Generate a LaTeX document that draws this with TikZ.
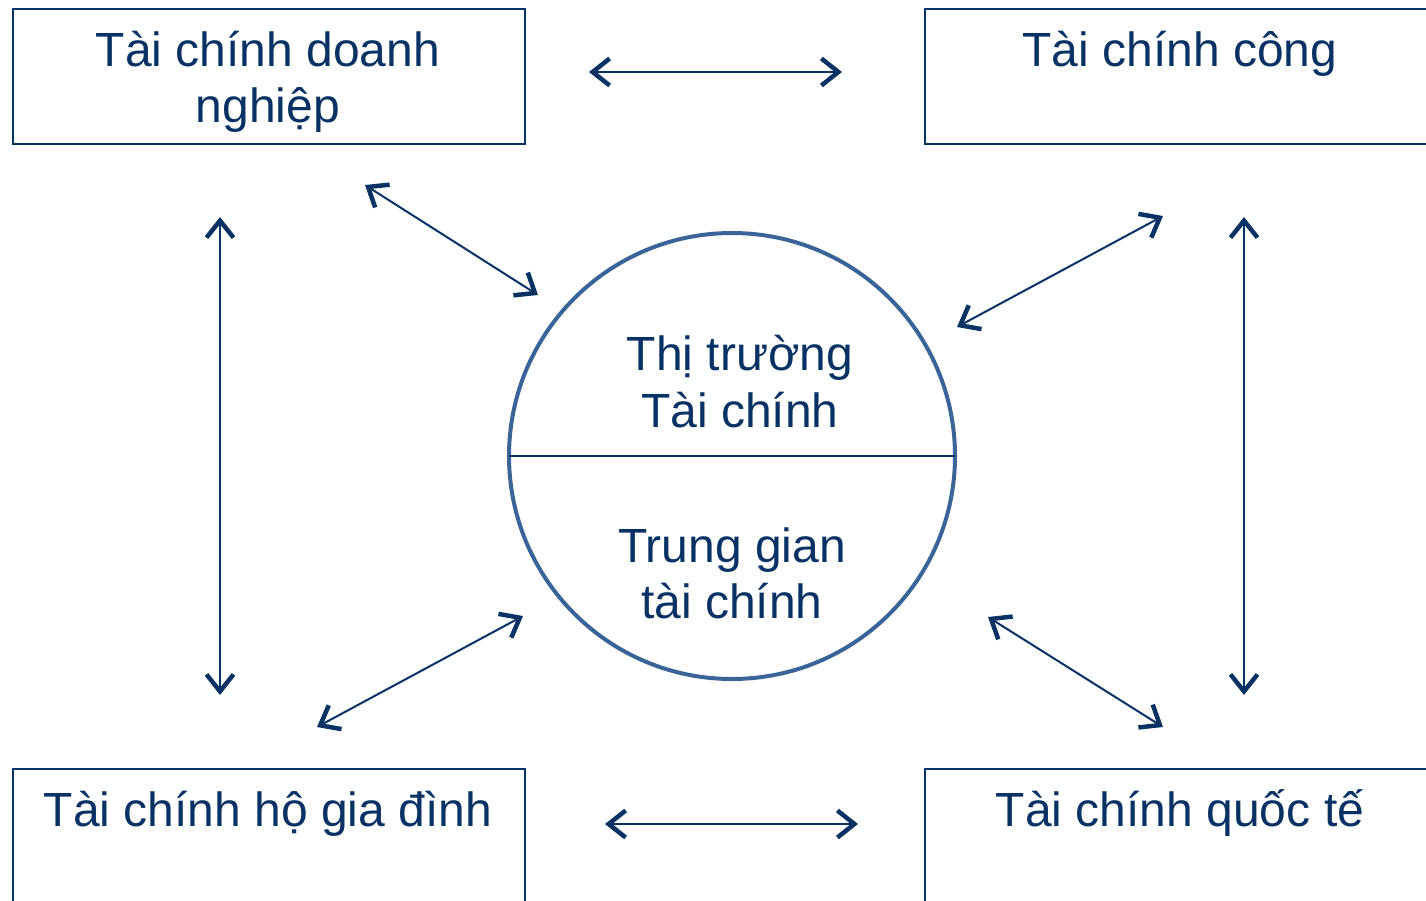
\documentclass[tikz,border=0pt]{standalone}
\usepackage{fontspec}
\setmainfont{Liberation Sans}
\usetikzlibrary{arrows.meta}
\definecolor{navy}{RGB}{8,50,100}
\definecolor{circblue}{RGB}{58,100,152}
\tikzset{
  box/.style={draw=navy, line width=2pt, minimum width=512pt, minimum height=135pt, anchor=north west, inner sep=0pt},
  lbl/.style={text=navy, anchor=base, inner sep=0pt, font=\fontsize{48}{57.6}\selectfont},
  barb/.tip={Straight Barb[length=17pt,width=27pt,line width=4.5pt 0 1]},
  dbl/.style={draw=navy, line width=2pt, barb-barb},
}
\begin{document}
\begin{tikzpicture}[x=1pt,y=-1pt]
\useasboundingbox (0,0) rectangle (1426,900);
\clip (0,0) rectangle (1426,900);
% boxes
\node[box] (b1) at (12,8) {};
\node[box] (b2) at (924,8) {};
\node[box, minimum height=160pt] (b3) at (12,768) {};
\node[box, minimum height=160pt] (b4) at (924,768) {};
% box texts
\node[lbl] (t1a) at (268,66) {Tài chính doanh};
\node[lbl] (t1b) at (268,122) {nghiệp};
\node[lbl] (t2) at (1180,66) {Tài chính công};
\node[lbl] (t3) at (268,826) {Tài chính hộ gia đình};
\node[lbl] (t4) at (1180,826) {Tài chính quốc tế};
% circle
\node[draw=circblue, line width=4pt, circle, minimum size=446pt, inner sep=0pt] (c) at (732,456) {};
\draw[navy, line width=2pt] ([xshift=2pt]c.west) -- ([xshift=-2pt]c.east);
\node[lbl] (m1) at (740,370) {Thị trường};
\node[lbl] (m2) at (740,427) {Tài chính};
\node[lbl] (m3) at (732,562) {Trung gian};
\node[lbl] (m4) at (732,618) {tài chính};
% arrow end points
\coordinate (h1a) at (589,72);  \coordinate (h1b) at (842,72);
\coordinate (h2a) at (605,824); \coordinate (h2b) at (858,824);
\coordinate (v1a) at (220,217); \coordinate (v1b) at (220,695);
\coordinate (v2a) at (1244,217); \coordinate (v2b) at (1244,695);
\coordinate (d1a) at (365,185); \coordinate (d1b) at (538,295);
\coordinate (d2a) at (1163,216); \coordinate (d2b) at (957,327);
\coordinate (d3a) at (317,727); \coordinate (d3b) at (523,616);
\coordinate (d4a) at (988,617); \coordinate (d4b) at (1163,727);
\draw[dbl] (h1a) -- (h1b);
\draw[dbl] (h2a) -- (h2b);
\draw[dbl] (v1a) -- (v1b);
\draw[dbl] (v2a) -- (v2b);
\draw[dbl] (d1a) -- (d1b);
\draw[dbl] (d2a) -- (d2b);
\draw[dbl] (d3a) -- (d3b);
\draw[dbl] (d4a) -- (d4b);
\end{tikzpicture}
\end{document}
